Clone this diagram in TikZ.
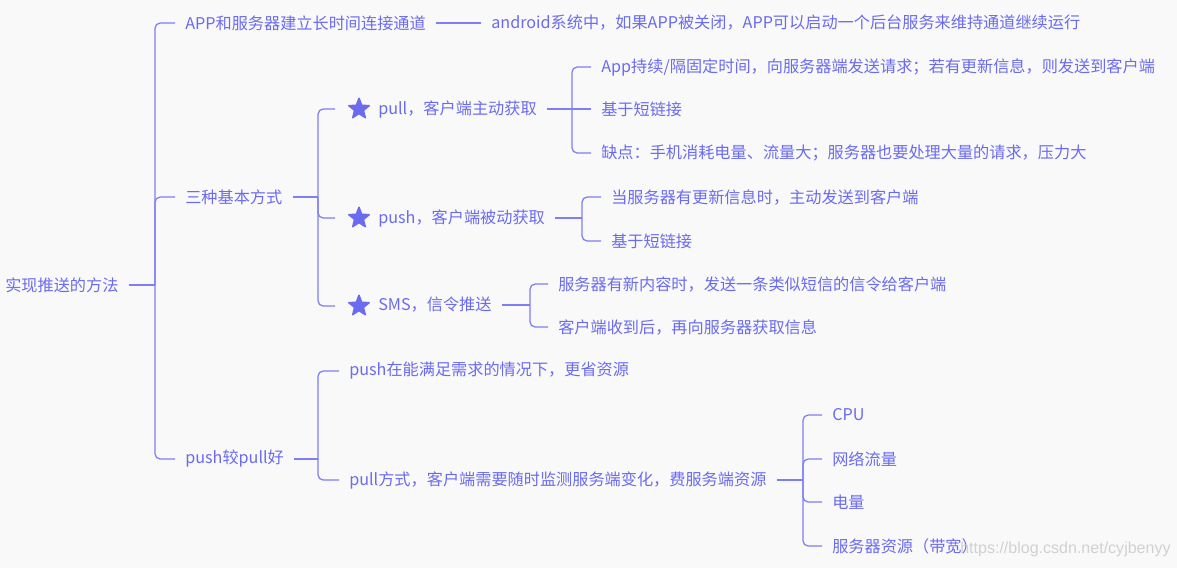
\documentclass[tikz,border=0pt]{standalone}
\usepackage{fontspec}
\setmainfont{Noto Sans CJK SC}
\newfontfamily\wmfont{Liberation Sans}
\usetikzlibrary{shapes.geometric}
\definecolor{ink}{HTML}{6B6BF0}
\definecolor{wire}{HTML}{7E7EF7}
\definecolor{paper}{HTML}{F9F9F9}
\tikzset{
  topic/.style={anchor=west,inner xsep=0.25cm,inner ysep=0pt,font=\fontsize{11.5}{13}\selectfont,text=ink},
  wire/.style={draw=wire,line width=0.9pt,rounded corners=0.13cm},
  stem/.style={draw=wire,line width=1.3pt},
  starmark/.style={star,star points=5,star point ratio=2.3,fill=ink,draw=ink,line join=round,line width=1pt,minimum size=0.54cm,inner sep=0pt,outer sep=0.28cm},
  wmark/.style={anchor=west,inner sep=0pt,font=\wmfont\fontsize{11.4}{13}\selectfont,text=black!22,opacity=0.8},
}
\begin{document}
\begin{tikzpicture}[x=0.025cm,y=-0.025cm]
\path[fill=paper] (0,0) rectangle (1177,568);
\useasboundingbox (0,0) rectangle (1177,568);
% root and first level
\node[topic] (root) at (-5,285) {实现推送的方法};
\node[topic] (a1) at (175,23) {APP和服务器建立长时间连接通道};
\node[topic] (a1x) at (481,23) {android系统中，如果APP被关闭，APP可以启动一个后台服务来维持通道继续运行};
\node[topic] (a2) at (175,197) {三种基本方式};
\node[topic] (a3) at (175,459) {push较pull好};
% three ways
\node[starmark] (s1) at (359,109) {};
\node[starmark] (s2) at (359,218) {};
\node[starmark] (s3) at (359,306) {};
\node[topic] (b1) at (368,109) {pull，客户端主动获取};
\node[topic] (b2) at (368,218) {push，客户端被动获取};
\node[topic] (b3) at (368,305) {SMS，信令推送};
\node[topic] (c1) at (591,67) {App持续/隔固定时间，向服务器端发送请求；若有更新信息，则发送到客户端};
\node[topic] (c2) at (591,109) {基于短链接};
\node[topic] (c3) at (591,153) {缺点：手机消耗电量、流量大；服务器也要处理大量的请求，压力大};
\node[topic] (d1) at (601,197) {当服务器有更新信息时，主动发送到客户端};
\node[topic] (d2) at (601,241) {基于短链接};
\node[topic] (e1) at (548,284) {服务器有新内容时，发送一条类似短信的信令给客户端};
\node[topic] (e2) at (548,327) {客户端收到后，再向服务器获取信息};
% push vs pull
\node[topic] (f1) at (339,371) {push在能满足需求的情况下，更省资源};
\node[topic] (f2) at (339,480) {pull方式，客户端需要随时监测服务端变化，费服务端资源};
\node[topic] (g1) at (822,415) {CPU};
\node[topic] (g2) at (822,459) {网络流量};
\node[topic] (g3) at (822,502) {电量};
\node[topic] (g4) at (822,546) {服务器资源（带宽）};
\node[wmark] (wm) at (960,549) {https://blog.csdn.net/cyjbenyy};
% junctions
\coordinate (j0) at (155,285);
\coordinate (j1) at (318,197);
\coordinate (j2) at (572,109);
\coordinate (j3) at (582,218);
\coordinate (j4) at (530,305);
\coordinate (j5) at (318,459);
\coordinate (j6) at (803,480);
\foreach \p/\j in {root/j0,a2/j1,b1/j2,b2/j3,b3/j4,a3/j5,f2/j6}
  \draw[stem] (\p.east) -- (\j);
\foreach \j/\c in {j0/a1,j0/a2,j0/a3,j1/s1,j1/s2,j1/s3,j2/c1,j2/c3,j3/d1,j3/d2,j4/e1,j4/e2,j5/f1,j5/f2,j6/g1,j6/g2,j6/g3,j6/g4}
  \draw[wire] (\j) |- (\c.west);
\draw[wire] (j2) -- (c2.west);
\draw[wire] (a1.east) -- (a1x.west);
\end{tikzpicture}
\end{document}
